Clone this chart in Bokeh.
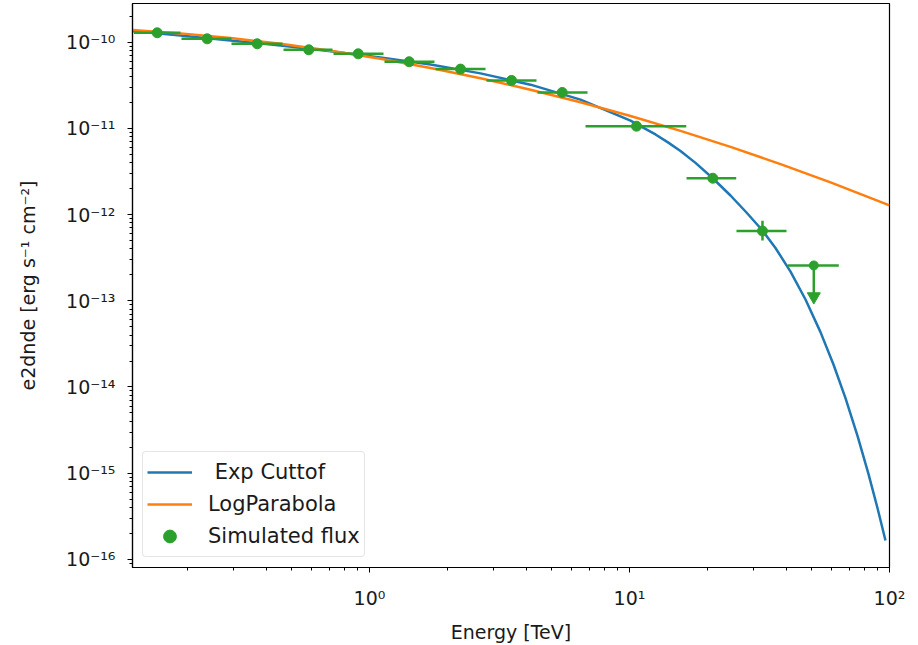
from bokeh.plotting import figure
from bokeh.models import (ColumnDataSource, Legend, LegendItem, FixedTicker,
                          CustomJSTickFormatter, Range1d)
from bokeh.embed import file_html
from bokeh.resources import INLINE

# ---------------- data ----------------
# flux points (TeV, erg s^-1 cm^-2)
pt_energy = [0.1526, 0.2375, 0.3699, 0.584, 0.9048, 1.421, 2.239, 3.517, 5.51, 10.64, 20.91, 32.47]
pt_flux = [1.285e-10, 1.094e-10, 9.58e-11, 8.16e-11, 7.33e-11, 5.93e-11, 4.87e-11, 3.60e-11,
           2.61e-11, 1.06e-11, 2.64e-12, 6.45e-13]
pt_e_lo = [0.1241, 0.1892, 0.2946, 0.4670, 0.7271, 1.142, 1.794, 2.818, 4.428, 6.774, 16.57, 25.79]
pt_e_hi = [0.1875, 0.2946, 0.4629, 0.7206, 1.132, 1.778, 2.794, 4.388, 6.895, 16.53, 25.73, 40.17]
pt_flux_lo = [1.24e-10, 1.06e-10, 9.30e-11, 7.90e-11, 7.10e-11, 5.75e-11, 4.72e-11, 3.48e-11,
              2.52e-11, 1.00e-11, 2.45e-12, 5.00e-13]
pt_flux_hi = [1.33e-10, 1.13e-10, 9.86e-11, 8.42e-11, 7.56e-11, 6.11e-11, 5.02e-11, 3.72e-11,
              2.70e-11, 1.12e-11, 2.84e-12, 8.50e-13]

# upper limit
ul_energy = [51.15]
ul_flux = [2.57e-13]
ul_e_lo = [40.63]
ul_e_hi = [63.83]
ul_arrow_end = [1.12e-13]

# model curves
exp_energy = [0.1226, 0.1875, 0.2920, 0.4546, 0.7079, 1.1022, 1.7163, 2.6724, 4.161, 6.479,
              10.09, 11.28, 12.59, 14.06, 15.71, 17.94, 20.86, 24.46, 28.18, 32.47, 36.43,
              41.62, 47.53, 54.28, 60.89, 67.72, 75.33, 83.05, 89.9, 96.5]
exp_flux = [1.349e-10, 1.196e-10, 1.049e-10, 9.13e-11, 7.86e-11, 6.66e-11, 5.50e-11, 4.345e-11,
            3.214e-11, 2.153e-11, 1.228e-11, 1.019e-11, 8.50e-12, 6.88e-12, 5.47e-12, 3.98e-12,
            2.658e-12, 1.665e-12, 1.057e-12, 6.54e-13, 4.10e-13, 2.176e-13, 1.035e-13, 4.33e-14,
            1.824e-14, 7.42e-15, 2.707e-15, 9.76e-16, 3.94e-16, 1.656e-16]

lp_energy = [0.1226, 0.1875, 0.2920, 0.4546, 0.7079, 1.1022, 1.7163, 2.6724, 4.161, 6.479,
             10.09, 15.71, 24.46, 38.09, 59.32, 100.0]
lp_flux = [1.385e-10, 1.265e-10, 1.119e-10, 9.59e-11, 7.97e-11, 6.43e-11, 5.03e-11, 3.82e-11,
           2.81e-11, 2.01e-11, 1.391e-11, 9.35e-12, 6.10e-12, 3.85e-12, 2.364e-12, 1.277e-12]

x_major = [1, 10, 100]
y_major = [1e-16, 1e-15, 1e-14, 1e-13, 1e-12, 1e-11, 1e-10]

# ---------------- style ----------------
BLUE = "#1f77b4"
ORANGE = "#ff7f0e"
GREEN = "#2ca02c"
TXT = "#1a1a1a"
FONT = "DejaVu Sans"

p = figure(frame_width=757, frame_height=564,
           x_axis_type="log", y_axis_type="log",
           x_range=Range1d(0.1226, 100), y_range=Range1d(8.05e-17, 2.81e-10),
           output_backend="svg", toolbar_location=None,
           min_border_left=132, min_border_right=20, min_border_top=3, min_border_bottom=76)

p.xgrid.visible = False
p.ygrid.visible = False
p.outline_line_color = "black"
p.outline_line_width = 1.2
p.outline_line_alpha = 1.0
p.background_fill_color = "white"
p.border_fill_color = "white"

x_minor = [m * d for d in [0.1, 1, 10] for m in range(2, 10)]
y_minor = [m * d for d in [1e-17, 1e-16, 1e-15, 1e-14, 1e-13, 1e-12, 1e-11, 1e-10] for m in range(2, 10)]
p.xaxis.ticker = FixedTicker(ticks=x_major, minor_ticks=x_minor)
p.yaxis.ticker = FixedTicker(ticks=y_major, minor_ticks=y_minor)

fmt_code = """
const e = Math.round(Math.log10(tick));
const sup = {'-':'\u207b','0':'\u2070','1':'\u00b9','2':'\u00b2','3':'\u00b3','4':'\u2074',
             '5':'\u2075','6':'\u2076','7':'\u2077','8':'\u2078','9':'\u2079'};
return '10' + String(e).split('').map(c => sup[c]).join('');
"""
for ax in (p.xaxis, p.yaxis):
    ax.formatter = CustomJSTickFormatter(code=fmt_code)
    ax.axis_line_color = "black"
    ax.axis_line_width = 1.2
    ax.major_tick_line_color = "black"
    ax.minor_tick_line_color = "black"
    ax.major_tick_in = 0
    ax.major_tick_out = 5
    ax.minor_tick_in = 0
    ax.minor_tick_out = 3
    ax.major_label_text_font = FONT
    ax.major_label_text_font_size = "19px"
    ax.major_label_text_color = TXT
    ax.axis_label_text_font = FONT
    ax.axis_label_text_font_size = "19px"
    ax.axis_label_text_font_style = "normal"
    ax.axis_label_text_color = TXT

p.xaxis.axis_label = "Energy [TeV]"
p.yaxis.axis_label = "e2dnde [erg s\u207b\u00b9 cm\u207b\u00b2]"
p.xaxis.major_label_standoff = 14
p.xaxis.axis_label_standoff = 9
p.yaxis.major_label_standoff = 12
p.yaxis.axis_label_standoff = 24

# curves
r_exp = p.line(exp_energy, exp_flux, line_color=BLUE, line_width=2.5)
r_lp = p.line(lp_energy, lp_flux, line_color=ORANGE, line_width=2.5)

# flux points with error bars
src = ColumnDataSource(dict(e=pt_energy, f=pt_flux, elo=pt_e_lo, ehi=pt_e_hi,
                            flo=pt_flux_lo, fhi=pt_flux_hi))
p.segment(x0="elo", y0="f", x1="ehi", y1="f", source=src, line_color=GREEN, line_width=2.5)
p.segment(x0="e", y0="flo", x1="e", y1="fhi", source=src, line_color=GREEN, line_width=2.5)
r_pts = p.scatter("e", "f", source=src, size=10, color=GREEN)

# upper limit
ul_src = ColumnDataSource(dict(e=ul_energy, f=ul_flux, elo=ul_e_lo, ehi=ul_e_hi, fend=ul_arrow_end))
p.segment(x0="elo", y0="f", x1="ehi", y1="f", source=ul_src, line_color=GREEN, line_width=2.5)
p.segment(x0="e", y0="f", x1="e", y1="fend", source=ul_src, line_color=GREEN, line_width=2.5)
p.scatter("e", "f", source=ul_src, size=9, color=GREEN)
p.scatter("e", "fend", source=ul_src, marker="inverted_triangle", size=13, color=GREEN)

legend = Legend(items=[
    LegendItem(label=" Exp Cuttof", renderers=[r_exp]),
    LegendItem(label="LogParabola", renderers=[r_lp]),
    LegendItem(label="Simulated flux", renderers=[r_pts]),
], location="bottom_left")
legend.margin = 10
legend.padding = 4
legend.spacing = 0
legend.glyph_width = 45
legend.glyph_height = 32
legend.label_height = 32
legend.label_standoff = 16
legend.label_text_font = FONT
legend.label_text_font_size = "21px"
legend.label_text_color = TXT
legend.border_line_color = "#cccccc"
legend.border_line_width = 1
legend.background_fill_color = "white"
legend.background_fill_alpha = 0.8
if "border_radius" in legend.properties():
    legend.border_radius = 4
p.add_layout(legend)

open("out.html", "w").write(file_html(p, INLINE))
